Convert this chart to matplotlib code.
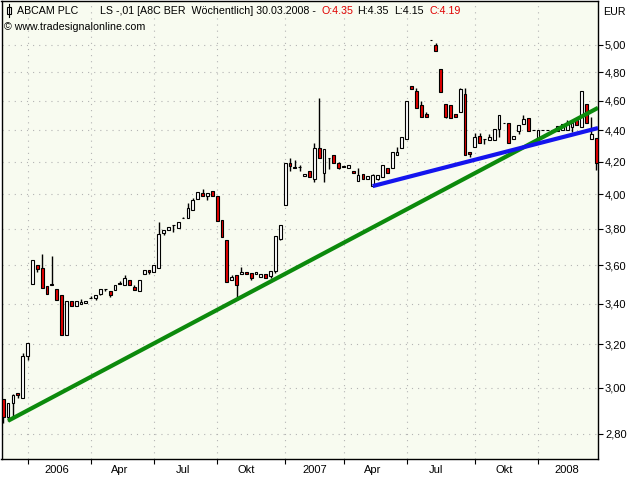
import numpy as np
import pandas as pd
import matplotlib
matplotlib.use('Agg')
import matplotlib.pyplot as plt
from matplotlib.ticker import FixedLocator, NullLocator, FixedFormatter
from matplotlib.patches import Rectangle
from matplotlib.lines import Line2D

plt.rcParams['font.family'] = ['Liberation Sans', 'DejaVu Sans']

# ---------------- data (weekly bars, dated Sundays) ----------------
start_date = '2005-11-27'
opens = [2.95, 2.87, 2.93, 2.975, 2.955, 3.145, 3.50, 3.60, 3.585, 3.49,
         3.50, 3.475, 3.445, 3.245, 3.415, 3.385, 3.40, 3.405, 3.43, 3.43,
         3.45, 3.475, 3.465, 3.47, 3.505, 3.497, 3.52, 3.485, 3.465, 3.555,
         3.575, 3.563, 3.583, 3.777, 3.793, 3.82, 3.806, 3.862, 3.864, 3.91,
         3.97, 4.006, 3.99, 4.02, 3.99, 3.85, 3.74, 3.52, 3.545, 3.555,
         3.565, 3.56, 3.553, 3.535, 3.555, 3.54, 3.57, 3.745, 3.935, 4.19,
         4.165, 4.165, 4.11, 4.14, 4.095, 4.287, 4.13, 4.225, 4.245, 4.19,
         4.17, 4.163, 4.145, 4.08, 4.125, 4.093, 4.05, 4.095, 4.105, 4.16,
         4.16, 4.245, 4.285, 4.345, 4.70, 4.665, 4.568, 4.51, 5.035, 5.00,
         4.82, 4.575, 4.57, 4.51, 4.52, 4.645, 4.26, 4.295, 4.365, 4.345,
         4.34, 4.335, 4.41, 4.45, 4.45, 4.345, 4.395, 4.44, 4.48, 4.40,
         4.34, 4.40, 4.40, 4.40, 4.395, 4.40, 4.405, 4.425, 4.47, 4.42,
         4.575, 4.345, 4.35]
highs = [2.95, 2.93, 2.97, 2.975, 3.16, 3.205, 3.63, 3.60, 3.66, 3.49,
         3.65, 3.475, 3.445, 3.415, 3.415, 3.415, 3.425, 3.415, 3.44, 3.445,
         3.475, 3.475, 3.465, 3.495, 3.515, 3.545, 3.52, 3.497, 3.52, 3.575,
         3.575, 3.60, 3.838, 3.793, 3.811, 3.82, 3.838, 3.87, 3.95, 3.98,
         4.016, 4.035, 4.006, 4.02, 3.99, 3.85, 3.74, 3.545, 3.545, 3.59,
         3.565, 3.56, 3.565, 3.555, 3.555, 3.57, 3.76, 3.82, 4.19, 4.22,
         4.21, 4.18, 4.125, 4.14, 4.318, 4.62, 4.28, 4.225, 4.245, 4.20,
         4.17, 4.18, 4.145, 4.16, 4.125, 4.11, 4.125, 4.115, 4.18, 4.16,
         4.26, 4.29, 4.355, 4.598, 4.70, 4.685, 4.598, 4.52, 5.035, 5.01,
         4.82, 4.575, 4.57, 4.51, 4.69, 4.69, 4.26, 4.385, 4.385, 4.345,
         4.378, 4.41, 4.50, 4.45, 4.45, 4.365, 4.435, 4.50, 4.48, 4.40,
         4.40, 4.40, 4.40, 4.40, 4.43, 4.44, 4.47, 4.45, 4.47, 4.665,
         4.575, 4.49, 4.35]
lows = [2.845, 2.855, 2.873, 2.955, 2.955, 3.125, 3.50, 3.565, 3.48, 3.45,
        3.495, 3.42, 3.245, 3.245, 3.385, 3.385, 3.40, 3.405, 3.43, 3.42,
        3.445, 3.465, 3.435, 3.47, 3.50, 3.497, 3.495, 3.47, 3.465, 3.555,
        3.555, 3.563, 3.583, 3.768, 3.793, 3.78, 3.806, 3.862, 3.864, 3.91,
        3.97, 3.99, 3.965, 3.99, 3.847, 3.757, 3.51, 3.52, 3.42, 3.555,
        3.555, 3.52, 3.553, 3.535, 3.532, 3.53, 3.56, 3.74, 3.935, 4.14,
        4.16, 4.145, 4.11, 4.105, 4.075, 4.225, 4.075, 4.155, 4.19, 4.155,
        4.165, 4.163, 4.128, 4.08, 4.093, 4.093, 4.05, 4.085, 4.105, 4.13,
        4.16, 4.245, 4.285, 4.345, 4.68, 4.55, 4.49, 4.49, 5.035, 4.95,
        4.66, 4.48, 4.485, 4.49, 4.52, 4.245, 4.23, 4.295, 4.32, 4.315,
        4.34, 4.335, 4.36, 4.45, 4.32, 4.345, 4.38, 4.44, 4.395, 4.40,
        4.34, 4.40, 4.40, 4.40, 4.395, 4.40, 4.405, 4.39, 4.435, 4.42,
        4.45, 4.345, 4.15]
closes = [2.87, 2.93, 2.968, 2.966, 3.145, 3.205, 3.63, 3.58, 3.48, 3.45,
          3.495, 3.42, 3.245, 3.415, 3.385, 3.415, 3.41, 3.415, 3.43, 3.445,
          3.475, 3.475, 3.445, 3.495, 3.50, 3.532, 3.495, 3.47, 3.52, 3.575,
          3.565, 3.60, 3.771, 3.793, 3.811, 3.82, 3.838, 3.862, 3.918, 3.968,
          4.016, 3.99, 4.006, 3.99, 3.847, 3.757, 3.51, 3.535, 3.495, 3.565,
          3.555, 3.53, 3.565, 3.555, 3.532, 3.57, 3.76, 3.82, 4.19, 4.175,
          4.16, 4.165, 4.125, 4.105, 4.287, 4.225, 4.28, 4.225, 4.19, 4.16,
          4.165, 4.18, 4.128, 4.115, 4.093, 4.11, 4.115, 4.115, 4.18, 4.13,
          4.26, 4.26, 4.355, 4.598, 4.68, 4.55, 4.49, 4.49, 5.035, 4.95,
          4.66, 4.49, 4.485, 4.49, 4.68, 4.245, 4.25, 4.358, 4.32, 4.345,
          4.358, 4.41, 4.50, 4.45, 4.32, 4.365, 4.435, 4.475, 4.395, 4.40,
          4.40, 4.40, 4.40, 4.40, 4.43, 4.44, 4.44, 4.45, 4.435, 4.665,
          4.45, 4.38, 4.19]

# trend lines: anchor bars and prices
green_idx = [1, 48]
green_price = [2.855, 3.42]
blue_idx = [76, 96]
blue_price = [4.05, 4.204]

y_ticks = [2.80, 3.00, 3.20, 3.40, 3.60, 3.80, 4.00, 4.20, 4.40, 4.60, 4.80, 5.00]
month_names = {4: 'Apr', 7: 'Jul', 10: 'Okt'}

title_name = 'ABCAM PLC'
title_info = 'LS -,01 [A8C BER  Wöchentlich] 30.03.2008 -'
title_o = 'O:4.35'
title_h = 'H:4.35'
title_l = 'L:4.15'
title_c = 'C:4.19'
copyright_text = '\u00a9 www.tradesignalonline.com'

# ---------------- figure ----------------
W, H = 640, 480
fig = plt.figure(figsize=(6.4, 4.8), dpi=100)
fig.patch.set_facecolor('white')

def fx(px):
    return px / W

def fy(py):
    return 1 - py / H

ax = fig.add_axes([fx(1.5), fy(459), fx(598) - fx(1.5), fy(1) - fy(459)])
ax.set_facecolor('#F8FBF0')
ax.set_yscale('log')

o = np.array(opens)
h = np.array(highs)
l = np.array(lows)
c = np.array(closes)
n = len(o)
x = np.arange(n)
dates = pd.date_range(start_date, periods=n, freq='W-SUN')

xmin, xmax = -0.35, n - 1 + 0.35

# wicks
ax.vlines(x, l, h, colors='black', linewidth=1.0, zorder=2)
# bodies
body_col = np.where(c > o, 'white', np.where(c < o, '#E40000', 'black'))
ax.bar(x, np.abs(c - o), bottom=np.minimum(o, c), width=0.58,
       color=body_col, edgecolor='black', linewidth=0.8, zorder=3)

# trend lines (straight on the log axis)
def trend(idx, price, x_end):
    slope = (np.log(price[1]) - np.log(price[0])) / (idx[1] - idx[0])
    p_end = np.exp(np.log(price[0]) + slope * (x_end - idx[0]))
    return [idx[0], x_end], [price[0], p_end]

gx, gy = trend(green_idx, green_price, xmax)
bx, by = trend(blue_idx, blue_price, xmax)
ax.plot(gx, gy, color='#0C8A0C', linewidth=3.0, solid_capstyle='butt', zorder=4)
ax.plot(bx, by, color='#1414EE', linewidth=3.0, solid_capstyle='butt', zorder=4)

ax.set_xlim(xmin, xmax)
ax.set_ylim(2.697, 5.336)

# x ticks: first bar of each quarter
q = dates.to_period('Q')
tick_idx = [i for i in range(1, n) if q[i] != q[i - 1]]
labels = []
for i in tick_idx:
    m = dates[i].month
    labels.append(str(dates[i].year) if m == 1 else month_names[m])
label_pos = [i + 6 for i in tick_idx]

ax.xaxis.set_major_locator(FixedLocator(tick_idx))
ax.xaxis.set_major_formatter(FixedFormatter([''] * len(tick_idx)))
ax.xaxis.set_minor_locator(FixedLocator(label_pos))
ax.xaxis.set_minor_formatter(FixedFormatter(labels))
ax.tick_params(axis='x', which='major', direction='out', length=3.5, width=0.8)
ax.tick_params(axis='x', which='minor', length=0, pad=4.5, labelsize=8)

ax.yaxis.tick_right()
ax.yaxis.set_major_locator(FixedLocator(y_ticks))
ax.yaxis.set_major_formatter(FixedFormatter([f'{v:.2f}'.replace('.', ',') for v in y_ticks]))
ax.yaxis.set_minor_locator(NullLocator())
ax.tick_params(axis='y', which='major', direction='out', length=3.5, width=0.8,
               pad=1.5, labelsize=8)

ax.grid(True, which='major', axis='both', color='#B4B4B4',
        linestyle=(0, (1, 4.5)), linewidth=0.8, zorder=1)
ax.set_axisbelow(True)
for s in ax.spines.values():
    s.set_color('black')
    s.set_linewidth(1.0)

# header texts
ty = fy(11)
fs = 7.7
fig.text(fx(17), ty, title_name, fontsize=fs, va='center', ha='left')
fig.text(fx(100), ty, title_info, fontsize=fs, va='center', ha='left')
fig.text(fx(321), ty, title_o, fontsize=fs, va='center', ha='left', color='#E00000')
fig.text(fx(357), ty, title_h, fontsize=fs, va='center', ha='left')
fig.text(fx(394), ty, title_l, fontsize=fs, va='center', ha='left')
fig.text(fx(429), ty, title_c, fontsize=fs, va='center', ha='left', color='#E00000')
fig.text(fx(4), fy(27), copyright_text, fontsize=fs, va='center', ha='left')
fig.text(fx(603), fy(12), 'EUR', fontsize=fs, va='center', ha='left')

# small candle icon in header
fig.add_artist(Line2D([fx(8.5), fx(8.5)], [fy(4), fy(17)], color='black',
                      linewidth=0.8, transform=fig.transFigure))
fig.add_artist(Rectangle((fx(6.5), fy(14)), fx(4), fy(7) - fy(14), facecolor='white',
                         edgecolor='black', linewidth=0.8, transform=fig.transFigure))

fig.savefig('out.png', dpi=100, facecolor='white')
